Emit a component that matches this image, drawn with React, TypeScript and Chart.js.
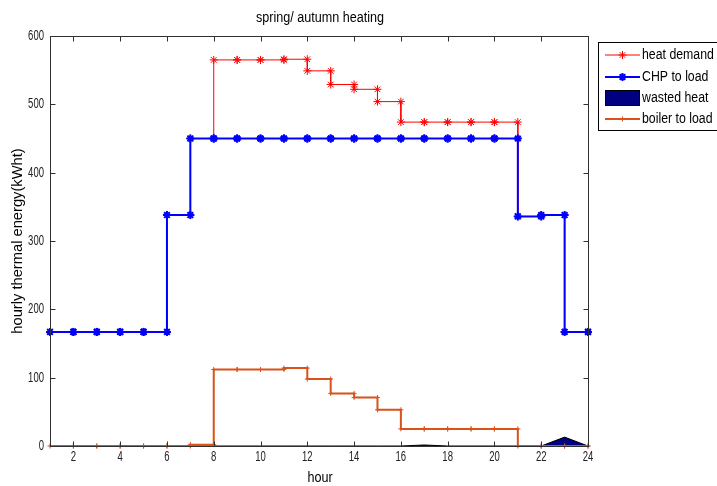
import React, { useEffect, useRef } from 'react';
import { Chart, registerables } from 'chart.js';

Chart.register(...registerables);

const hours = [1, 2, 3, 4, 5, 6, 7, 8, 9, 10, 11, 12, 13, 14, 15, 16, 17, 18, 19, 20, 21, 22, 23, 24];
const heatDemand = [167, 167, 167, 167, 167, 338, 450, 565, 565, 565, 566, 549, 529, 522, 504, 474, 474, 474, 474, 474, 336, 338, 167, 167];
const chpToLoad = [167, 167, 167, 167, 167, 338, 450, 450, 450, 450, 450, 450, 450, 450, 450, 450, 450, 450, 450, 450, 336, 338, 167, 167];
const wastedHeat = [0, 0, 0, 0, 0, 0, 0, 0, 0, 0, 0, 0, 0, 0, 0, 0, 1.5, 0, 0, 0, 0, 0, 13, 0];
const boilerToLoad = [0, 0, 0, 0, 0, 0, 2, 112, 112, 112, 114, 98, 77, 71, 53, 25, 25, 25, 25, 25, 0, 0, 0, 0];

const xTickValues = [2, 4, 6, 8, 10, 12, 14, 16, 18, 20, 22, 24];
const yTickValues = [0, 100, 200, 300, 400, 500, 600];

const titleText = 'spring/ autumn heating';
const xTitle = 'hour';
const yTitle = 'hourly thermal energy(kWht)';
const seriesLabels = ['heat demand', 'CHP to load', 'wasted heat', 'boiler to load'];

const FONT = "'Liberation Sans', Arial, sans-serif";

function stairs(xs: number[], ys: number[]) {
  const pts: { x: number; y: number }[] = [];
  for (let i = 0; i < xs.length; i++) {
    pts.push({ x: xs[i], y: ys[i] });
    if (i < xs.length - 1) pts.push({ x: xs[i + 1], y: ys[i] });
  }
  return pts;
}

function drawMarker(ctx: CanvasRenderingContext2D, style: string, x: number, y: number, r: number, color: string, w: number) {
  ctx.save();
  ctx.strokeStyle = color;
  ctx.lineWidth = w;
  ctx.beginPath();
  ctx.moveTo(x - r, y);
  ctx.lineTo(x + r, y);
  ctx.moveTo(x, y - r);
  ctx.lineTo(x, y + r);
  if (style === 'star') {
    const d = r * 0.707;
    ctx.moveTo(x - d, y - d);
    ctx.lineTo(x + d, y + d);
    ctx.moveTo(x - d, y + d);
    ctx.lineTo(x + d, y - d);
  }
  ctx.stroke();
  ctx.restore();
}

function textScaled(ctx: CanvasRenderingContext2D, text: string, x: number, y: number, sx: number, size: number, align: CanvasTextAlign, color = '#000') {
  ctx.save();
  ctx.font = `${size}px ${FONT}`;
  ctx.fillStyle = color;
  ctx.textAlign = align;
  ctx.textBaseline = 'middle';
  ctx.translate(x, y);
  ctx.scale(sx, 1);
  ctx.fillText(text, 0, 0);
  ctx.restore();
}

const decorPlugin = {
  id: 'decor',
  afterDraw(chart: any) {
    const { ctx, chartArea: a } = chart;
    const xs = chart.scales.x;
    const ys = chart.scales.y;
    ctx.save();
    // axes box
    ctx.strokeStyle = '#303030';
    ctx.lineWidth = 1;
    const L = Math.round(a.left) + 0.5;
    const R = Math.round(a.right) + 0.5;
    const T = Math.round(a.top) + 0.5;
    const B = Math.round(a.bottom) + 0.5;
    ctx.strokeRect(L, T, R - L, B - T);
    ctx.beginPath();
    xTickValues.forEach((v) => {
      const px = Math.round(xs.getPixelForValue(v)) + 0.5;
      ctx.moveTo(px, B);
      ctx.lineTo(px, B - 5);
      ctx.moveTo(px, T);
      ctx.lineTo(px, T + 5);
    });
    yTickValues.forEach((v) => {
      const py = Math.round(ys.getPixelForValue(v)) + 0.5;
      ctx.moveTo(L, py);
      ctx.lineTo(L + 5, py);
      ctx.moveTo(R, py);
      ctx.lineTo(R - 5, py);
    });
    ctx.stroke();

    // tick labels
    xTickValues.forEach((v) => {
      textScaled(ctx, String(v), xs.getPixelForValue(v), 457, 0.68, 14, 'center', '#222');
    });
    yTickValues.forEach((v) => {
      textScaled(ctx, String(v), 44, ys.getPixelForValue(v), 0.68, 14, 'right', '#222');
    });

    // titles
    textScaled(ctx, titleText, (a.left + a.right) / 2 + 1, 18, 0.9, 14, 'center');
    textScaled(ctx, xTitle, (a.left + a.right) / 2 + 1, 478, 0.9, 14, 'center');
    ctx.save();
    ctx.translate(18, (a.top + a.bottom) / 2);
    ctx.rotate(-Math.PI / 2);
    textScaled(ctx, yTitle, 0, 0, 0.98, 15, 'center');
    ctx.restore();

    // legend
    const bx = 598.5, by = 42.5, bw = 120, bh = 88;
    ctx.fillStyle = '#fff';
    ctx.fillRect(bx, by, bw, bh);
    ctx.strokeStyle = '#000';
    ctx.lineWidth = 1;
    ctx.strokeRect(bx, by, bw, bh);
    const rows = [55, 77, 98, 119];
    const x0 = 605, x1 = 640;
    chart.data.datasets.forEach((ds: any, i: number) => {
      const y = rows[i];
      if (ds.legendKind === 'area') {
        ctx.fillStyle = ds.backgroundColor;
        ctx.fillRect(x0, y - 8, x1 - x0, 16);
        ctx.strokeStyle = '#000';
        ctx.lineWidth = 1;
        ctx.strokeRect(x0 + 0.5, y - 7.5, x1 - x0 - 1, 15);
      } else {
        ctx.strokeStyle = ds.borderColor;
        ctx.lineWidth = ds.borderWidth;
        ctx.beginPath();
        ctx.moveTo(x0, y);
        ctx.lineTo(x1, y);
        ctx.stroke();
        drawMarker(ctx, ds.pointStyle, (x0 + x1) / 2, y, ds.pointRadius, ds.borderColor, ds.pointBorderWidth);
      }
      textScaled(ctx, ds.label, 642, y, 0.88, 14, 'left');
    });
    ctx.restore();
  },
};

export default function App() {
  const ref = useRef<HTMLCanvasElement | null>(null);
  useEffect(() => {
    if (!ref.current) return;
    const chart = new Chart(ref.current, {
      type: 'line',
      data: {
        datasets: [
          {
            label: seriesLabels[0],
            data: stairs(hours, heatDemand),
            borderColor: '#ff0000',
            backgroundColor: '#ff0000',
            borderWidth: 1,
            pointStyle: 'star',
            pointRadius: 4,
            pointBorderWidth: 1,
            pointBorderColor: '#ff0000',
            fill: false,
            order: 3,
            clip: false,
          } as any,
          {
            label: seriesLabels[1],
            data: stairs(hours, chpToLoad),
            borderColor: '#0000ff',
            backgroundColor: '#0000ff',
            borderWidth: 2,
            pointStyle: 'star',
            pointRadius: 4,
            pointBorderWidth: 2,
            pointBorderColor: '#0000ff',
            fill: false,
            order: 1,
            clip: false,
          } as any,
          {
            label: seriesLabels[2],
            legendKind: 'area',
            data: hours.map((h, i) => ({ x: h, y: wastedHeat[i] })),
            borderColor: '#000000',
            backgroundColor: '#000080',
            borderWidth: 1,
            pointRadius: 0,
            fill: 'origin',
            order: 2,
            clip: false,
          } as any,
          {
            label: seriesLabels[3],
            data: stairs(hours, boilerToLoad),
            borderColor: '#d95319',
            backgroundColor: '#d95319',
            borderWidth: 2,
            pointStyle: 'cross',
            pointRadius: 2.5,
            pointBorderWidth: 1,
            pointBorderColor: '#d95319',
            fill: false,
            order: 0,
            clip: false,
          } as any,
        ],
      },
      options: {
        animation: false,
        responsive: false,
        devicePixelRatio: 1,
        layout: { padding: { top: 36, right: 129, left: 0, bottom: 0 } },
        plugins: { legend: { display: false }, title: { display: false }, tooltip: { enabled: false } },
        scales: {
          x: {
            type: 'linear',
            min: 1,
            max: 24,
            afterBuildTicks: (s: any) => {
              s.ticks = xTickValues.map((v) => ({ value: v }));
            },
            afterFit: (s: any) => {
              s.height = 40;
            },
            grid: { display: false, drawTicks: false },
            border: { display: false },
            ticks: { display: false },
          },
          y: {
            type: 'linear',
            min: 0,
            max: 600,
            afterBuildTicks: (s: any) => {
              s.ticks = yTickValues.map((v) => ({ value: v }));
            },
            afterFit: (s: any) => {
              s.width = 50;
            },
            grid: { display: false, drawTicks: false },
            border: { display: false },
            ticks: { display: false },
          },
        },
      },
      plugins: [decorPlugin],
    });
    return () => chart.destroy();
  }, []);
  return (
    <div style={{ position: 'fixed', left: 0, top: 0, width: 717, height: 486, background: '#fff' }}>
      <canvas ref={ref} width={717} height={486} style={{ display: 'block' }} />
    </div>
  );
}
